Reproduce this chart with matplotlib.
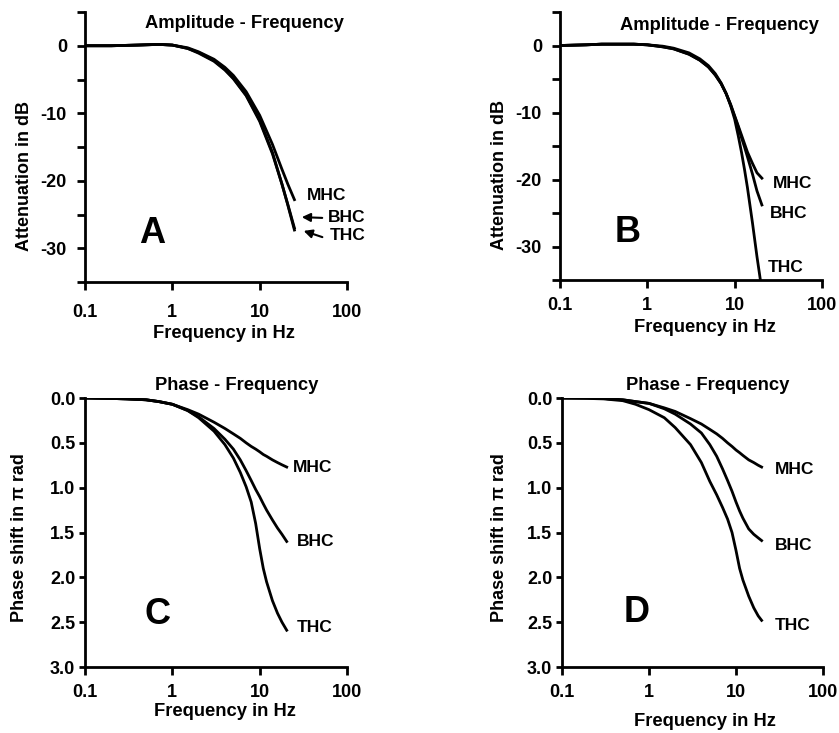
import numpy as np
import matplotlib
matplotlib.use("Agg")
import matplotlib.pyplot as plt

plt.rcParams['font.family'] = ['Liberation Sans', 'DejaVu Sans']
plt.rcParams['font.weight'] = 'bold'
plt.rcParams['axes.unicode_minus'] = False

W, H = 839, 733

# --- amplitude, panel A (dB) ---
freq_a = [0.1, 0.2, 0.4, 0.7, 1, 1.5, 2, 3, 4, 5, 7, 10, 14, 18, 21, 25]
mhc_a = [0, 0, 0.1, 0.2, 0.1, -0.3, -0.9, -2.0, -3.2, -4.4, -6.8, -10.3, -14.6, -18.3, -20.5, -22.8]
bhc_a = [0, 0, 0.1, 0.2, 0.1, -0.4, -1.1, -2.3, -3.6, -4.9, -7.4, -11.2, -16.0, -20.5, -23.5, -27.0]
thc_a = [0, 0, 0.1, 0.2, 0.1, -0.4, -1.0, -2.2, -3.5, -4.8, -7.3, -11.0, -15.8, -20.5, -23.6, -27.3]

# --- amplitude, panel B (dB) ---
freq_b = [0.1, 0.2, 0.3, 0.5, 0.7, 1, 1.5, 2, 3, 4, 5, 6, 7, 8, 9, 10, 11, 12, 13, 14, 16, 18, 20.5]
mhc_b = [0, 0.1, 0.2, 0.2, 0.2, 0.1, -0.2, -0.5, -1.3, -2.2, -3.2, -4.4, -5.7, -7.2, -8.8, -10.5,
         -12.0, -13.4, -14.7, -15.9, -17.6, -19.0, -19.8]
bhc_b = [0, 0.1, 0.2, 0.2, 0.2, 0.1, -0.2, -0.5, -1.3, -2.2, -3.2, -4.4, -5.7, -7.2, -8.9, -10.6,
         -12.2, -13.8, -15.2, -16.6, -19.2, -21.7, -23.8]
freq_b_thc = [0.1, 0.2, 0.3, 0.5, 0.7, 1, 1.5, 2, 3, 4, 5, 6, 7, 8, 9, 10, 11, 12, 13, 14, 16, 18, 19.7]
thc_b = [0, 0.1, 0.2, 0.2, 0.2, 0.1, -0.1, -0.4, -1.1, -2.0, -3.0, -4.2, -5.6, -7.2, -9.0, -11.0,
         -13.5, -16.0, -18.6, -21.2, -26.5, -31.5, -35]

# --- phase, panel C (pi rad) ---
freq_c = [0.1, 0.2, 0.3, 0.5, 0.7, 1, 1.5, 2, 3, 4, 5, 6, 7, 8, 9, 10, 11, 12, 14, 16, 18, 20.4]
mhc_c = [0, 0.005, 0.01, 0.02, 0.04, 0.07, 0.13, 0.18, 0.27, 0.34, 0.40, 0.45, 0.50, 0.54, 0.57,
         0.60, 0.63, 0.65, 0.69, 0.72, 0.745, 0.77]
bhc_c = [0, 0.005, 0.01, 0.02, 0.04, 0.07, 0.14, 0.21, 0.34, 0.46, 0.57, 0.69, 0.81, 0.92, 1.02,
         1.10, 1.18, 1.25, 1.36, 1.45, 1.52, 1.60]
thc_c = [0, 0.005, 0.01, 0.02, 0.04, 0.07, 0.14, 0.22, 0.37, 0.52, 0.67, 0.83, 0.99, 1.16, 1.40,
         1.68, 1.90, 2.05, 2.26, 2.40, 2.50, 2.59]

# --- phase, panel D (pi rad) ---
freq_d = [0.1, 0.2, 0.3, 0.5, 0.7, 1, 1.5, 2, 3, 4, 5, 6, 7, 8, 9, 10, 11, 12, 14, 16, 18, 19.7]
mhc_d = [0, 0, 0.005, 0.02, 0.04, 0.06, 0.11, 0.15, 0.23, 0.29, 0.35, 0.40, 0.45, 0.50, 0.54,
         0.58, 0.61, 0.64, 0.69, 0.72, 0.75, 0.77]
bhc_d = [0, 0, 0.005, 0.02, 0.04, 0.06, 0.12, 0.18, 0.29, 0.39, 0.52, 0.65, 0.79, 0.92, 1.04,
         1.16, 1.26, 1.34, 1.46, 1.52, 1.56, 1.59]
thc_d = [0, 0.005, 0.01, 0.03, 0.07, 0.13, 0.22, 0.33, 0.52, 0.72, 0.93, 1.08, 1.22, 1.35, 1.50,
         1.70, 1.90, 2.03, 2.21, 2.34, 2.43, 2.48]

freq_ticks = [0.1, 1, 10, 100]
freq_ticklabels = ['0.1', '1', '10', '100']
db_ticks = [0, -10, -20, -30]
db_minor = [5, -5, -15, -25, -35]
phase_ticks = [0.0, 0.5, 1.0, 1.5, 2.0, 2.5, 3.0]


def fig_xy(x, y):
    # pixel position measured from the top-left corner -> figure fraction
    return x / W, 1 - y / H


def make_axes(fig, left, top, right, bottom):
    l, t = fig_xy(left, top)
    r, b = fig_xy(right, bottom)
    ax = fig.add_axes([l, b, r - l, t - b])
    ax.set_xscale('log')
    ax.set_xlim(0.1, 100)
    ax.set_xticks(freq_ticks)
    ax.set_xticklabels(freq_ticklabels)
    ax.xaxis.set_minor_locator(matplotlib.ticker.NullLocator())
    for s in ['top', 'right']:
        ax.spines[s].set_visible(False)
    for s in ['left', 'bottom']:
        ax.spines[s].set_linewidth(2.0)
    ax.tick_params(width=2.0, length=6, labelsize=13, direction='out')
    ax.tick_params(which='minor', width=2.0, length=6)
    return ax


fig = plt.figure(figsize=(W / 100, H / 100), dpi=100)
lw = 2.0

# Panel A
ax = make_axes(fig, 85, 12, 347, 282)
for y in (mhc_a, bhc_a, thc_a):
    ax.plot(freq_a, y, color='black', lw=lw)
ax.set_ylim(-35, 5)
ax.set_yticks(db_ticks)
ax.set_yticks(db_minor, minor=True)
ax.tick_params(axis='x', pad=10)
ax.tick_params(axis='y', pad=7)

# Panel B
ax = make_axes(fig, 560, 12, 822, 280)
ax.plot(freq_b, mhc_b, color='black', lw=lw)
ax.plot(freq_b, bhc_b, color='black', lw=lw)
ax.plot(freq_b_thc, thc_b, color='black', lw=lw)
ax.set_ylim(-35, 5)
ax.set_yticks(db_ticks)
ax.set_yticks(db_minor, minor=True)
ax.tick_params(axis='x', pad=6)
ax.tick_params(axis='y', pad=7)

# Panel C
ax = make_axes(fig, 85, 398, 347, 667)
for y in (mhc_c, bhc_c, thc_c):
    ax.plot(freq_c, y, color='black', lw=lw)
ax.set_ylim(3.0, 0.0)
ax.set_yticks(phase_ticks)
ax.set_yticklabels([f'{v:.1f}' for v in phase_ticks])
ax.tick_params(axis='x', pad=6)
ax.tick_params(axis='y', length=4, pad=3)

# Panel D
ax = make_axes(fig, 562, 398, 823, 667)
for y in (mhc_d, bhc_d, thc_d):
    ax.plot(freq_d, y, color='black', lw=lw)
ax.set_ylim(3.0, 0.0)
ax.set_yticks(phase_ticks)
ax.set_yticklabels([f'{v:.1f}' for v in phase_ticks])
ax.tick_params(axis='x', pad=6)
ax.tick_params(axis='y', length=4, pad=3)

# titles, axis labels and panel letters
texts = [
    (244, 23, 'Amplitude - Frequency', 13.2, 0),
    (719, 26, 'Amplitude - Frequency', 13.2, 0),
    (237, 385, 'Phase - Frequency', 13.2, 0),
    (708, 385, 'Phase - Frequency', 13.2, 0),
    (224, 333, 'Frequency in Hz', 13.2, 0),
    (705, 328, 'Frequency in Hz', 13.2, 0),
    (225, 712, 'Frequency in Hz', 13.2, 0),
    (705, 722, 'Frequency in Hz', 13.2, 0),
    (25, 176, 'Attenuation in dB', 13, 90),
    (500, 175, 'Attenuation in dB', 13, 90),
    (20, 538, 'Phase shift in \u03c0 rad', 13, 90),
    (500, 538, 'Phase shift in \u03c0 rad', 13, 90),
    (152, 234, 'A', 26, 0),
    (628, 233, 'B', 26, 0),
    (157, 615, 'C', 26, 0),
    (637, 612, 'D', 26, 0),
]
for x, y, s, size, rot in texts:
    fx, fy = fig_xy(x, y)
    fig.text(fx, fy, s, fontsize=size, fontweight='bold', rotation=rot,
             ha='center', va='center')

# curve names
names = [
    (307, 195, 'MHC'), (328, 217, 'BHC'), (330, 236, 'THC'),
    (773, 183, 'MHC'), (770, 213, 'BHC'), (768, 267, 'THC'),
    (293, 467, 'MHC'), (297, 542, 'BHC'), (297, 628, 'THC'),
    (775, 469, 'MHC'), (775, 546, 'BHC'), (775, 625, 'THC'),
]
for x, y, s in names:
    fx, fy = fig_xy(x, y)
    fig.text(fx, fy, s, fontsize=12.5, fontweight='bold', ha='left', va='center')

# arrows pointing at BHC / THC ends in panel A
for (x0, y0), (x1, y1) in [((325, 218), (299, 217)), ((325, 238), (301, 230))]:
    fig.add_artist(matplotlib.patches.FancyArrowPatch(
        fig_xy(x0, y0), fig_xy(x1, y1), transform=fig.transFigure,
        arrowstyle='-|>,head_length=5,head_width=2.5', lw=1.5, color='black'))

fig.savefig('out.png', dpi=100, facecolor='white')
